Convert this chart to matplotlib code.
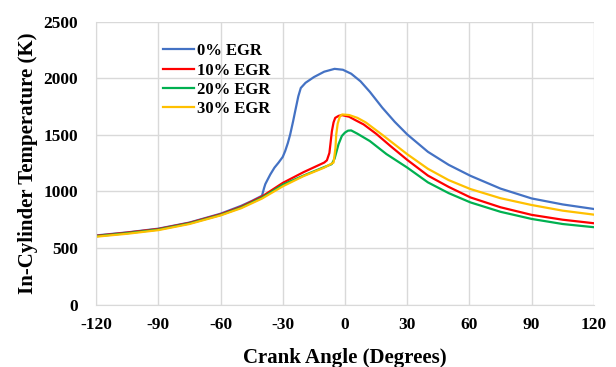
import matplotlib.pyplot as plt

# crank angle (deg) and in-cylinder temperature (K)
ca_0 = [-120, -105, -90, -75, -60, -50, -45, -40, -39, -38.4, -37, -36, -34, -32, -30, -28.8,
        -27.5, -26.4, -25, -24, -22.5, -21.3, -19, -15, -10, -5, -1, 3, 7.5, 12, 18, 24, 30,
        40, 50, 60.5, 75, 90, 105, 120]
t_0 = [611, 638, 671, 725, 803, 873, 915, 962, 1030, 1065, 1115, 1150, 1210, 1255, 1305, 1358,
       1430, 1504, 1620, 1709, 1840, 1914, 1960, 2010, 2058, 2083, 2075, 2040, 1973, 1880, 1740,
       1615, 1504, 1350, 1235, 1138, 1025, 938, 885, 845]

ca_10 = [-120, -105, -90, -75, -60, -50, -40, -30, -20, -10, -8.7, -7.5, -7, -6.3, -5.5, -4.7,
         -3, -1.4, 2, 5, 9, 15, 22, 30, 40, 50, 60.5, 75, 90, 105, 120]
t_10 = [608, 636, 668, 722, 798, 865, 955, 1075, 1170, 1255, 1275, 1340, 1420, 1533, 1610, 1650,
        1668, 1674, 1660, 1630, 1592, 1510, 1400, 1279, 1140, 1040, 947, 860, 793, 750, 719]

ca_20 = [-120, -105, -90, -75, -60, -50, -40, -30, -20, -10, -6.4, -5, -3.1, -1.5, 0, 1.5, 3,
         6, 12, 20, 30, 40, 50, 60.5, 75, 90, 105, 120]
t_20 = [604, 631, 663, 717, 792, 858, 945, 1059, 1140, 1215, 1241, 1290, 1417, 1490, 1520, 1537,
        1539, 1510, 1445, 1330, 1211, 1080, 985, 903, 820, 757, 712, 684]

ca_30 = [-120, -105, -90, -75, -60, -50, -40, -30, -20, -10, -5.5, -4.6, -4.2, -3.5, -2.5, -1.4,
         2, 6, 10, 18, 30, 40, 50, 60.5, 75, 90, 105, 120]
t_30 = [600, 626, 658, 712, 788, 852, 937, 1045, 1135, 1210, 1255, 1380, 1504, 1600, 1660, 1680,
        1675, 1650, 1610, 1500, 1329, 1200, 1100, 1021, 940, 880, 830, 795]

labels = ['0% EGR', '10% EGR', '20% EGR', '30% EGR']
colors = ['#4472C4', '#FF0000', '#00B050', '#FFC000']

plt.rcParams['font.family'] = ['Liberation Serif', 'DejaVu Serif']
plt.rcParams['font.weight'] = 'bold'
plt.rcParams['axes.unicode_minus'] = False

fig = plt.figure(figsize=(6.16, 3.67), dpi=100)
ax = fig.add_axes([0.156, 0.170, 0.808, 0.771])

series = [(ca_0, t_0), (ca_10, t_10), (ca_20, t_20), (ca_30, t_30)]
for (x, y), lab, c in zip(series, labels, colors):
    ax.plot(x, y, color=c, lw=1.6, label=lab)

ax.set_xlim(-120, 120)
ax.set_ylim(0, 2500)
ax.set_xticks(range(-120, 121, 30))
ax.set_yticks(range(0, 2501, 500))
ax.grid(True, color='#D9D9D9', lw=1)
ax.set_axisbelow(True)
ax.tick_params(length=0, labelsize=12.5)
ax.tick_params(axis='x', pad=9)
ax.tick_params(axis='y', pad=13)
for s in ['top', 'right']:
    ax.spines[s].set_visible(False)
for s in ['left', 'bottom']:
    ax.spines[s].set_color('#D9D9D9')
for lbl in ax.get_xticklabels() + ax.get_yticklabels():
    lbl.set_fontweight('bold')

ax.set_xlabel('Crank Angle (Degrees)', fontsize=15, fontweight='bold', labelpad=11)
ax.set_ylabel('In-Cylinder Temperature (K)', fontsize=15, fontweight='bold', labelpad=4)

ax.legend(loc='upper left', bbox_to_anchor=(0.117, 0.953), frameon=False, fontsize=12,
          handlelength=1.9, handletextpad=0.15, labelspacing=0.2, borderpad=0)

fig.savefig('out.png', dpi=100)
